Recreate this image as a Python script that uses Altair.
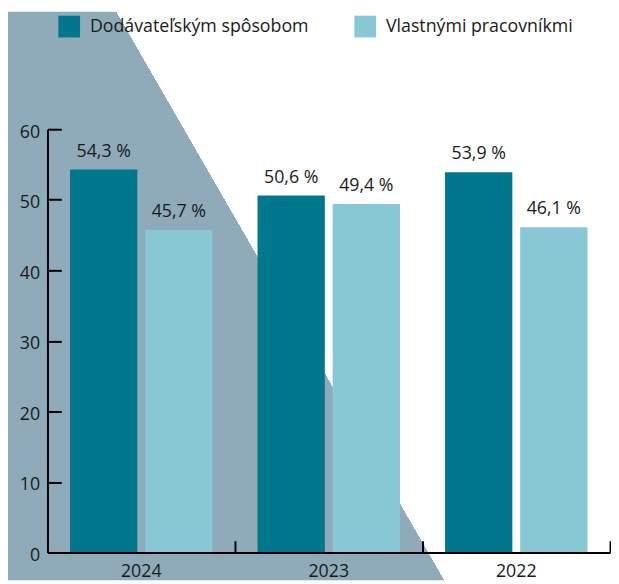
import altair as alt
import pandas as pd

years = ["2024", "2023", "2022"]
series = ["Dodávateľským spôsobom", "Vlastnými pracovníkmi"]
dodavatelsky = [54.3, 50.6, 53.9]
vlastnymi = [45.7, 49.4, 46.1]
y_ticks = [0, 10, 20, 30, 40, 50, 60]

DARK = "#00778C"
LIGHT = "#88C7D4"
GREY = "#8FAAB9"
INK = "#1a1a1a"
FONT = "Open Sans"

rows = []
for i, yr in enumerate(years):
    for s, vals in zip(series, [dodavatelsky, vlastnymi]):
        v = vals[i]
        rows.append({"year": yr, "series": s, "value": v,
                     "label": f"{v:.1f}".replace(".", ",") + " %"})
df = pd.DataFrame(rows)

W, H = 570, 429
PT, PB = 119, 28

x_scale = alt.Scale(domain=years, paddingInner=0, paddingOuter=0)
xo_scale = alt.Scale(domain=series, paddingInner=0.104, paddingOuter=0.3)
y_scale = alt.Scale(domain=[0, 60], nice=False)
color_scale = alt.Scale(domain=series, range=[DARK, LIGHT])

# decorative diagonal background (hard-stop gradient); box spans page (8,8)-(619,584)
bw = 611.0
top_y, bot_y = 8, 8 + PT + H + PB
ux1 = (113 + 0.577 * top_y - 8) / bw
ux2 = (113 + 0.577 * bot_y - 8) / bw
k = ux2 - ux1
t = 0.3
grad = alt.LinearGradient(
    gradient="linear",
    stops=[alt.GradientStop(color=GREY, offset=0),
           alt.GradientStop(color="white", offset=0.0005)],
    x1=ux1, y1=0, x2=ux1 + t, y2=-t * k,
)
bg = alt.Chart(pd.DataFrame({"k": [0]})).mark_rect(fill=grad, clip=False).encode(
    x=alt.value(-40), x2=alt.value(W + 1), y=alt.value(-PT), y2=alt.value(H + PB)
)

bars = alt.Chart(df).mark_bar().encode(
    x=alt.X("year:N", sort=years, scale=x_scale,
            axis=alt.Axis(orient="bottom", title=None, tickSize=0, labelPadding=10,
                          labelAngle=0, domainColor="black", domainWidth=2,
                          labelFont=FONT, labelFontSize=18, labelColor=INK, zindex=1)),
    xOffset=alt.XOffset("series:N", sort=series, scale=xo_scale),
    y=alt.Y("value:Q", scale=y_scale,
            axis=alt.Axis(orient="left", title=None, values=y_ticks, tickSize=0,
                          grid=False, labelPadding=8, labelOffset=3,
                          domainColor="black", domainWidth=2,
                          labelFont=FONT, labelFontSize=18, labelColor=INK, zindex=1)),
    color=alt.Color("series:N", scale=color_scale, sort=series,
                    legend=alt.Legend(orient="none", legendX=11, legendY=-115,
                                      direction="horizontal", title=None,
                                      symbolType="square", symbolSize=484,
                                      symbolStrokeWidth=0, symbolOpacity=1,
                                      labelFont=FONT, labelFontSize=18, labelColor=INK,
                                      labelOffset=10, columnPadding=46, labelLimit=400,
                                      padding=0, zindex=1)),
)

labels = alt.Chart(df).mark_text(baseline="alphabetic", dy=-13, font=FONT,
                                 fontSize=18, color=INK).encode(
    x=alt.X("year:N", sort=years, scale=x_scale,
            axis=alt.Axis(orient="top", offset=-H, title=None, labels=False,
                          domain=False, tickSize=12, tickWidth=2, tickColor="black",
                          tickBand="extent", zindex=1)),
    xOffset=alt.XOffset("series:N", sort=series, scale=xo_scale),
    y=alt.Y("value:Q", scale=y_scale,
            axis=alt.Axis(orient="right", offset=-W, title=None, labels=False,
                          domain=False, grid=False, values=y_ticks[1:], tickSize=14,
                          tickWidth=2, tickColor="black", zindex=1)),
    text="label:N",
)

chart = alt.layer(bg, bars, labels).resolve_axis(
    x="independent", y="independent"
).properties(
    width=W, height=H,
    autosize=alt.AutoSizeParams(type="none"),
    padding={"left": 40, "top": PT, "right": 1, "bottom": PB},
).configure_view(stroke=None)

chart.save("out.html", embed_options={"renderer": "svg", "actions": False})
